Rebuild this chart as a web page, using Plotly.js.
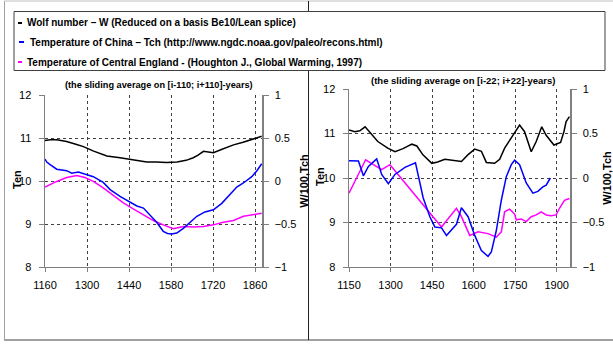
<!DOCTYPE html>
<html>
<head>
<meta charset="utf-8">
<script src="https://cdn.plot.ly/plotly-3.0.1.min.js"></script>
<style>html,body{margin:0;padding:0;background:#fff;}#chart{width:613px;height:345px;}</style>
</head>
<body>
<div id="chart"></div>
<script>
// ---- Left panel: sliding average on [i-110; i+110] years ----
const leftYearsW = [1160,1177,1199,1232,1260,1288,1320,1366,1410,1454,1499,1530,1565,1600,1610,1630,1654,1670,1688,1705,1721,1750,1788,1820,1850,1882];
const leftW      = [0.47,0.48,0.48,0.46,0.43,0.40,0.35,0.29,0.27,0.245,0.22,0.22,0.215,0.22,0.225,0.24,0.27,0.30,0.345,0.34,0.33,0.37,0.42,0.45,0.48,0.52];
const leftYearsTch = [1160,1166,1177,1199,1232,1249,1271,1293,1321,1354,1377,1410,1443,1466,1488,1510,1532,1554,1568,1582,1599,1621,1643,1666,1693,1721,1749,1777,1799,1821,1849,1866,1882];
const leftTch      = [0.255,0.22,0.19,0.137,0.12,0.09,0.105,0.083,0.05,-0.017,-0.10,-0.18,-0.245,-0.29,-0.315,-0.395,-0.48,-0.585,-0.61,-0.617,-0.605,-0.55,-0.48,-0.41,-0.36,-0.335,-0.26,-0.16,-0.07,-0.023,0.05,0.12,0.20];
const leftYearsTen = [1160,1199,1232,1266,1293,1321,1354,1388,1421,1454,1488,1521,1554,1588,1621,1654,1688,1721,1754,1788,1821,1854,1882];
const leftTen      = [9.86,9.99,10.08,10.13,10.08,9.99,9.84,9.66,9.49,9.35,9.22,9.08,8.98,8.89,8.94,8.93,8.94,8.98,9.04,9.08,9.18,9.22,9.25];

// ---- Right panel: sliding average on [i-22; i+22] years ----
const rightYearsW = [1150,1171,1189,1208,1226,1254,1290,1316,1345,1377,1395,1417,1449,1470,1496,1532,1556,1579,1604,1628,1646,1676,1694,1712,1736,1748,1766,1784,1808,1826,1846,1862,1890,1914,1926,1934,1946];
const rightW      = [0.54,0.52,0.53,0.575,0.51,0.41,0.335,0.295,0.33,0.38,0.36,0.26,0.165,0.18,0.21,0.195,0.185,0.26,0.325,0.30,0.175,0.165,0.21,0.335,0.445,0.50,0.595,0.52,0.295,0.41,0.575,0.48,0.37,0.40,0.52,0.635,0.69];
const rightYearsTch = [1150,1184,1202,1220,1250,1268,1292,1316,1352,1390,1418,1442,1460,1484,1502,1520,1538,1556,1580,1604,1628,1652,1664,1682,1700,1718,1736,1748,1766,1790,1814,1832,1850,1862,1877];
const rightTch      = [0.195,0.19,0.025,0.13,0.215,0.04,-0.065,0.04,0.12,0.17,-0.225,-0.435,-0.55,-0.56,-0.645,-0.585,-0.52,-0.335,-0.435,-0.645,-0.815,-0.88,-0.83,-0.59,-0.25,0.015,0.15,0.20,0.15,-0.055,-0.17,-0.15,-0.10,-0.08,0.0];
const rightYearsTen = [1150,1210,1268,1298,1484,1538,1556,1586,1616,1652,1682,1700,1712,1730,1748,1754,1772,1790,1808,1826,1844,1862,1880,1898,1910,1928,1946];
const rightTen      = [9.66,10.41,10.19,10.30,8.90,9.32,9.13,8.71,8.79,8.75,8.67,8.79,9.24,9.30,9.19,9.06,9.08,9.02,9.13,9.17,9.24,9.17,9.15,9.17,9.32,9.50,9.54];

const leftTicks = [1160,1300,1440,1580,1720,1860];
const rightTicks = [1150,1300,1450,1600,1750,1900];

const legendLabels = [
  "Wolf number – W (Reduced on a basis Be10/Lean splice)",
  "Temperature of China – Tch (http://www.ngdc.noaa.gov/paleo/recons.html)",
  "Temperature of Central England - (Houghton J., Global Warming, 1997)"
];
const titles = ["(the sliding average on [i-110; i+110]-years)", "(the sliding average on [i-22; i+22]-years)"];
const leftAxisTitle = "Ten";
const rightAxisTitle = "W/100,Tch";

const W = 613, H = 345;
const px = x => x / W;
const py = y => 1 - y / H;
const FONT = "Liberation Sans, Arial, sans-serif";
const colW = "#000000", colT = "#0000FF", colE = "#FF00FF";

const traces = [
  {x: leftYearsW, y: leftW, xaxis: 'x', yaxis: 'y2', mode: 'lines', line: {color: colW, width: 1.5}},
  {x: leftYearsTch, y: leftTch, xaxis: 'x', yaxis: 'y2', mode: 'lines', line: {color: colT, width: 1.5}},
  {x: leftYearsTen, y: leftTen, xaxis: 'x', yaxis: 'y', mode: 'lines', line: {color: colE, width: 1.5}},
  {x: rightYearsW, y: rightW, xaxis: 'x2', yaxis: 'y4', mode: 'lines', line: {color: colW, width: 1.5}},
  {x: rightYearsTch, y: rightTch, xaxis: 'x2', yaxis: 'y4', mode: 'lines', line: {color: colT, width: 1.5}},
  {x: rightYearsTen, y: rightTen, xaxis: 'x2', yaxis: 'y3', mode: 'lines', line: {color: colE, width: 1.5}}
];

const tickFont = {family: FONT, size: 11, color: '#000'};
const titleFont = {family: FONT, size: 11, color: '#000', weight: 'bold'};

function xAxis(domain, range, ticks, anchor) {
  return {domain: domain, range: range, tickvals: ticks, ticktext: ticks.map(String), anchor: anchor,
    showline: true, linecolor: '#808080', linewidth: 1, mirror: false,
    ticks: 'outside', ticklen: 4, tickcolor: '#808080', ticklabelstandoff: 4,
    showgrid: true, gridcolor: '#404040', griddash: '3px,3px', gridwidth: 1,
    zeroline: false, tickfont: tickFont, fixedrange: true};
}
function yAxisL(domain, anchor) {
  return {domain: domain, range: [8, 12], dtick: 1, tick0: 8, anchor: anchor,
    showline: true, linecolor: '#808080', linewidth: 1.5,
    ticks: 'outside', ticklen: 5, tickcolor: '#808080', ticklabelstandoff: 5,
    showgrid: true, gridcolor: '#404040', griddash: '3px,3px', gridwidth: 1,
    zeroline: false, tickfont: tickFont};
}
function yAxisR(overlay, anchor, standoff) {
  return {overlaying: overlay, side: 'right', anchor: anchor, range: [-1, 1], dtick: 0.5, tick0: -1,
    showline: true, linecolor: '#808080', linewidth: 1.5,
    ticks: 'outside', ticklen: 5, tickcolor: '#808080', ticklabelstandoff: 4,
    showgrid: false, zeroline: false, tickfont: tickFont,
    title: {text: rightAxisTitle, font: titleFont, standoff: standoff}};
}

const shapes = [
  // outer frame
  {type: 'line', xref: 'paper', yref: 'paper', x0: px(4.5), x1: px(4.5), y0: py(1), y1: py(340), line: {color: '#a0a0a0', width: 1}},
  {type: 'line', xref: 'paper', yref: 'paper', x0: px(4), x1: px(613), y0: py(340), y1: py(340), line: {color: '#a0a0a0', width: 2}},
  {type: 'line', xref: 'paper', yref: 'paper', x0: px(4), x1: px(613), y0: py(1), y1: py(1), line: {color: '#c0c0c0', width: 1}},
  // divider
  {type: 'line', xref: 'paper', yref: 'paper', x0: px(308.5), x1: px(308.5), y0: py(1), y1: py(340), line: {color: '#202020', width: 1}},
  // legend box
  {type: 'rect', xref: 'paper', yref: 'paper', x0: px(14), x1: px(605), y0: py(11.5), y1: py(70.5), fillcolor: '#ffffff', line: {color: '#404040', width: 1}},
  // legend keys
  {type: 'line', xref: 'paper', yref: 'paper', x0: px(18), x1: px(22), y0: py(23), y1: py(23), line: {color: colW, width: 2}},
  {type: 'line', xref: 'paper', yref: 'paper', x0: px(19), x1: px(24), y0: py(42), y1: py(42), line: {color: colT, width: 2}},
  {type: 'line', xref: 'paper', yref: 'paper', x0: px(18), x1: px(22), y0: py(62), y1: py(62), line: {color: colE, width: 2}}
];

const legendFont = {family: FONT, size: 10, color: '#000', weight: 'bold'};
const annotations = [
  {xref: 'paper', yref: 'paper', x: px(25), y: py(23), xanchor: 'left', yanchor: 'middle', showarrow: false, text: legendLabels[0], font: legendFont},
  {xref: 'paper', yref: 'paper', x: px(28), y: py(42.5), xanchor: 'left', yanchor: 'middle', showarrow: false, text: legendLabels[1], font: legendFont},
  {xref: 'paper', yref: 'paper', x: px(25), y: py(62), xanchor: 'left', yanchor: 'middle', showarrow: false, text: legendLabels[2], font: legendFont},
  {xref: 'paper', yref: 'paper', x: px(159), y: py(85), xanchor: 'center', yanchor: 'middle', showarrow: false, text: titles[0], font: {family: FONT, size: 9.2, color: '#000', weight: 'bold'}},
  {xref: 'paper', yref: 'paper', x: px(463), y: py(81), xanchor: 'center', yanchor: 'middle', showarrow: false, text: titles[1], font: {family: FONT, size: 9.5, color: '#000', weight: 'bold'}},
  {xref: 'paper', yref: 'paper', x: px(17), y: py(180), xanchor: 'center', yanchor: 'middle', textangle: -90, showarrow: false, text: leftAxisTitle, font: titleFont},
  {xref: 'paper', yref: 'paper', x: px(320), y: py(177), xanchor: 'center', yanchor: 'middle', textangle: -90, showarrow: false, text: leftAxisTitle, font: titleFont}
];

const layout = {
  width: W, height: H,
  margin: {l: 0, r: 0, t: 0, b: 0, pad: 0},
  paper_bgcolor: '#ffffff', plot_bgcolor: '#ffffff',
  showlegend: false,
  font: {family: FONT, size: 11, color: '#000'},
  xaxis: xAxis([px(45), px(262)], [1160, 1883], leftTicks, 'y'),
  yaxis: yAxisL([py(267), py(95)], 'x'),
  yaxis2: yAxisR('y', 'x', 5),
  xaxis2: xAxis([px(349), px(570)], [1150, 1948], rightTicks, 'y3'),
  yaxis3: yAxisL([py(267), py(89)], 'x2'),
  yaxis4: yAxisR('y3', 'x2', 4),
  shapes: shapes,
  annotations: annotations
};

Plotly.newPlot('chart', traces, layout, {staticPlot: true, displayModeBar: false});
</script>
</body>
</html>
